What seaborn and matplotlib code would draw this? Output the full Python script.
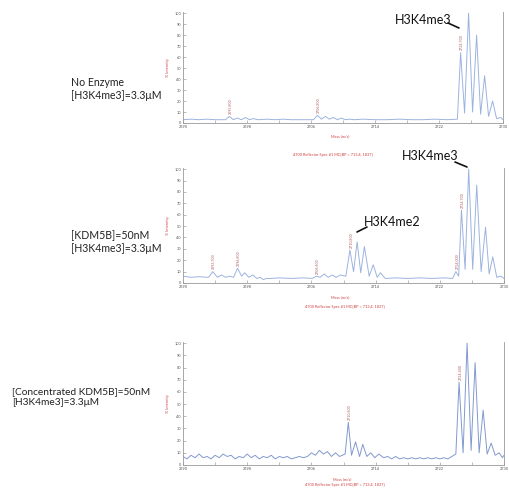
import matplotlib
matplotlib.use('Agg')
import matplotlib.pyplot as plt
import seaborn as sns
from matplotlib.lines import Line2D

sns.set_theme(style='white')
plt.rcParams['font.family'] = ['Lato', 'DejaVu Sans']

# 面板1: 无酶
mz1 = [2690.0, 2691.0, 2692.0, 2693.0, 2694.0, 2695.3, 2695.8, 2696.3, 2696.8, 2697.3, 2697.8,
       2698.3, 2698.8, 2699.4, 2700.5, 2701.5, 2702.5, 2703.5, 2704.5, 2705.5, 2706.3, 2706.8,
       2707.3, 2707.8, 2708.3, 2708.8, 2709.3, 2709.8, 2710.3, 2710.8, 2711.4, 2712.5, 2714.0,
       2715.5, 2717.0, 2718.5, 2720.0, 2721.5, 2723.0, 2724.3, 2724.7, 2725.2, 2725.7, 2726.2,
       2726.7, 2727.2, 2727.7, 2728.2, 2728.7, 2729.2, 2729.7, 2730.0]
int1 = [3, 3.5, 3, 3.5, 3, 3, 6, 3, 4.5, 3, 5, 3, 4, 3, 3.5, 3, 3.5, 3, 3, 3, 3, 7,
        3.5, 6, 3.5, 5, 3, 4.5, 3, 3.5, 3, 3.5, 3, 3, 3.5, 3, 3, 3.5, 3, 3.5, 64, 9,
        100, 10, 80, 8, 43, 6, 20, 4, 5, 3]

# 面板2: KDM5B 50nM
mz2 = [2690.0, 2691.0, 2692.0, 2693.2, 2693.7, 2694.3, 2694.8, 2695.3, 2695.8, 2696.3, 2696.8,
       2697.3, 2697.7, 2698.2, 2698.7, 2699.2, 2699.6, 2700.0, 2700.4, 2700.9, 2702.0, 2703.5,
       2705.0, 2706.1, 2706.6, 2707.1, 2707.6, 2708.1, 2708.6, 2709.1, 2709.6, 2710.3, 2710.8,
       2711.25, 2711.7, 2712.15, 2712.6, 2713.2, 2713.7, 2714.2, 2714.6, 2715.2, 2716.5, 2718.0,
       2719.5, 2721.0, 2722.5, 2723.6, 2724.0, 2724.35, 2724.7, 2725.15, 2725.6, 2726.1, 2726.6,
       2727.15, 2727.7, 2728.15, 2728.6, 2729.1, 2729.6, 2730.0]
int2 = [6, 5, 5.5, 5, 10, 5, 7, 5, 6, 5, 13, 6, 9, 5, 7, 4, 5, 3, 4, 4, 4.5, 4, 4.5, 4, 6,
        5, 8, 5, 7, 5, 7, 6, 29, 10, 36, 9, 32, 6, 16, 5, 9, 4, 4.5, 4, 4.5, 4, 4.5, 4, 10,
        6, 64, 12, 100, 12, 86, 10, 49, 8, 23, 5, 6, 4]

# 面板3: 浓缩 KDM5B
mz3 = [2690.0, 2690.5, 2691.0, 2691.5, 2692.0, 2692.5, 2693.0, 2693.5, 2694.0, 2694.5, 2695.0,
       2695.5, 2696.0, 2696.5, 2697.0, 2697.5, 2698.0, 2698.5, 2699.0, 2699.5, 2700.0, 2700.5,
       2701.0, 2701.5, 2702.0, 2702.5, 2703.0, 2703.5, 2704.0, 2704.5, 2705.0, 2705.5, 2706.0,
       2706.5, 2707.0, 2707.5, 2708.0, 2708.5, 2709.0, 2709.5, 2710.2, 2710.6, 2711.0, 2711.5,
       2712.0, 2712.4, 2712.9, 2713.4, 2713.9, 2714.4, 2715.0, 2715.5, 2716.0, 2716.5, 2717.0,
       2717.5, 2718.0, 2718.5, 2719.0, 2719.5, 2720.0, 2720.5, 2721.0, 2721.5, 2722.0, 2722.5,
       2723.0, 2723.5, 2724.0, 2724.4, 2724.9, 2725.4, 2725.9, 2726.4, 2726.9, 2727.4, 2727.9,
       2728.4, 2728.9, 2729.4, 2729.8, 2730.0]
int3 = [7, 5, 8, 6, 9, 6, 7, 5, 8, 6, 9, 7, 8, 5, 7, 6, 9, 6, 8, 5, 7, 6, 8, 5, 7, 6, 7, 5,
        6, 7, 6, 7, 10, 8, 12, 9, 11, 7, 10, 7, 9, 35, 8, 19, 7, 17, 7, 10, 6, 9, 6, 7, 5, 7,
        5, 6, 5, 6, 5, 6, 5, 6, 5, 6, 5, 6, 5, 7, 9, 68, 10, 100, 12, 84, 10, 45, 9, 18, 8, 10,
        6, 8]

# 峰标注 (m/z, 强度)
peaks1 = [(2695.8, 6), (2706.8, 7), (2724.7, 64)]
peaks2 = [(2693.7, 10), (2696.8, 13), (2706.6, 6), (2710.8, 29), (2724.0, 10), (2724.7, 64)]
peaks3 = [(2710.6, 35), (2724.4, 68)]

xticks = [2690, 2698, 2706, 2714, 2722, 2730]
yticks = [0, 10, 20, 30, 40, 50, 60, 70, 80, 90, 100]

conditions = ['No Enzyme\n[H3K4me3]=3.3\u03bcM',
              '[KDM5B]=50nM\n[H3K4me3]=3.3\u03bcM',
              '[Concentrated KDM5B]=50nM\n[H3K4me3]=3.3\u03bcM']
caption = '4700 Reflector Spec #1 MC[BP = 713.4, 1837]'

W, H = 509, 488
fig = plt.figure(figsize=(W / 100, H / 100), dpi=100)
fig.patch.set_facecolor('white')

# 像素坐标 -> 图坐标
def fx(px):
    return px / W

def fy(py):
    return 1 - py / H

boxes = [(183, 12, 503, 123), (183, 168, 504, 283), (183, 342, 504, 465)]
data = [(mz1, int1, peaks1, '#9db3df'), (mz2, int2, peaks2, '#9db3df'), (mz3, int3, peaks3, '#8299cf')]

for (l, t, r, b), (mz, inten, peaks, col) in zip(boxes, data):
    ax = fig.add_axes([fx(l), fy(b), fx(r) - fx(l), fy(t) - fy(b)])
    sns.lineplot(x=mz, y=inten, ax=ax, color=col, lw=0.7, estimator=None)
    ax.set_xlim(2690, 2730)
    ax.set_ylim(0, 101)
    ax.set_xticks(xticks)
    ax.set_xticks([2694, 2702, 2710, 2718, 2726], minor=True)
    ax.set_yticks(yticks)
    ax.set_xticklabels([str(v) for v in xticks])
    ax.set_yticklabels([str(v) for v in yticks])
    ax.tick_params(axis='both', which='both', direction='in', length=2, width=0.4,
                   labelsize=2.8, labelcolor='#555555', color='#888888', pad=1.5,
                   bottom=True, left=True)
    for s in ['left', 'bottom', 'right']:
        ax.spines[s].set_color('#999999')
        ax.spines[s].set_linewidth(0.6)
    ax.spines['top'].set_visible(False)
    ax.set_xlabel('')
    ax.set_ylabel('% Intensity', fontsize=2.8, color='#d04040', labelpad=3)
    for pm, pi in peaks:
        ax.text(pm + 0.2, pi + 2, f'{pm:.3f}', rotation=90, fontsize=2.6,
                color='#b06060', ha='center', va='bottom')

# x 轴标题与红色说明
for px, py in [(340, 136), (340, 297), (342, 479)]:
    fig.text(fx(px), fy(py), 'Mass (m/z)', fontsize=2.8, color='#d04040', ha='center', va='center')
for px, py in [(333, 155), (345, 307), (345, 485)]:
    fig.text(fx(px), fy(py), caption, fontsize=2.8, color='#d04040', ha='center', va='center')

# 左侧实验条件
for (px, py), txt, fs in zip([(71, 89), (71, 242), (12, 397)], conditions, [7.6, 7.6, 7.3]):
    fig.text(fx(px), fy(py), txt, fontsize=fs, color='#222222', ha='left', va='center',
             linespacing=1.3)

# 峰名称标注
labels = [('H3K4me3', 423, 20, (448, 23), (459, 28)),
          ('H3K4me3', 430, 156, (455, 162), (467, 167)),
          ('H3K4me2', 392, 222, (367, 227), (357, 232))]
for txt, px, py, p0, p1 in labels:
    fig.text(fx(px), fy(py), txt, fontsize=9, color='#111111', ha='center', va='center')
    fig.add_artist(Line2D([fx(p0[0]), fx(p1[0])], [fy(p0[1]), fy(p1[1])],
                          transform=fig.transFigure, color='#111111', lw=1.2))

fig.savefig('out.png', dpi=100, facecolor='white')
